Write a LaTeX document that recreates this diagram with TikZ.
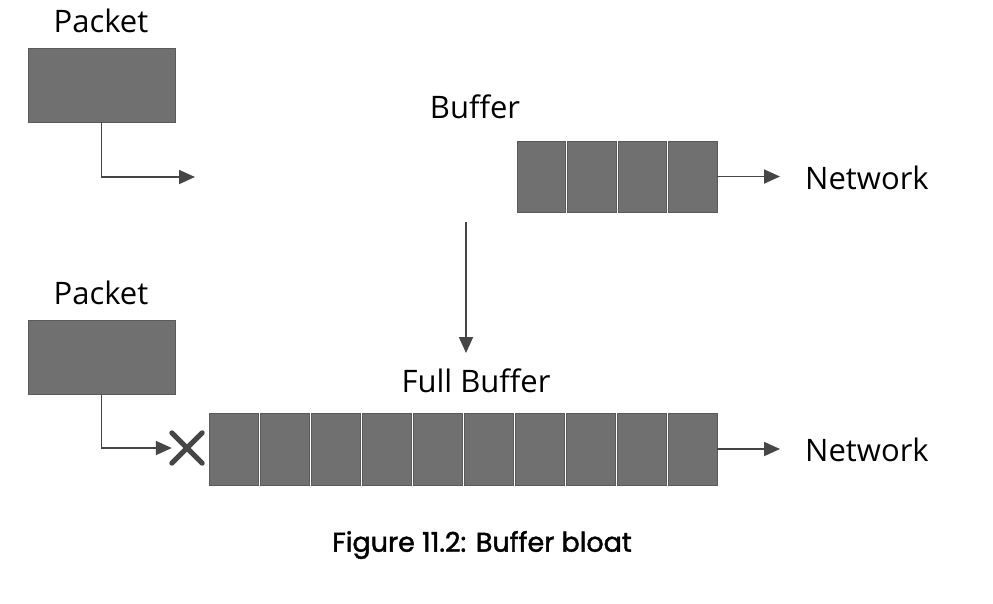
\documentclass[tikz,border=0pt]{standalone}
\usepackage{fontspec}
\setmainfont{Open Sans}
\newfontfamily\captionfont{Poppins}[FakeBold=1.6]
\usetikzlibrary{positioning,arrows.meta}
\definecolor{cellgray}{RGB}{112,112,112}
\definecolor{linegray}{RGB}{70,70,70}

\begin{document}
\begin{tikzpicture}[x=1pt, y=-1pt,
      cell/.style={rectangle, draw=cellgray!80!black, fill=cellgray, line width=0.8pt,
                   inner sep=0pt},
      pkt/.style={cell, minimum width=147pt, minimum height=74pt},
      lbl/.style={font=\fontsize{31}{37}\selectfont, inner sep=0pt},
      flow/.style={draw=linegray, line width=1.8pt,
                   -{Triangle[length=16pt, width=14pt]}}]
    \useasboundingbox (0,0) rectangle (993,603);
    % before: buffer with room
    \node[pkt] (pkt1) at (101.5, 85) {};
    \node[lbl] (pktlbl1) at (101, 21) {Packet};
    \foreach \i in {1,...,4} {
      \node[cell, minimum width=48.5pt, minimum height=71pt] (b\i)
        at (516+25.25+50.5*\i-50.5, 176.5) {};
    }
    \node[lbl] (buflbl) at (475, 107) {Buffer};
    \node[lbl, anchor=west] (net1) at (805, 178) {Network};
    \coordinate (in1) at (195, 177);
    \draw[flow] (pkt1.south) |- (in1);
    \draw[flow, shorten >=25pt] (b4.east) -- (b4.east -| net1.west);
    % buffer fills up
    \coordinate (fill1) at (466, 222);
    \coordinate (fill2) at (466, 353);
    \draw[flow] (fill1) -- (fill2);
    % after: full buffer, packet dropped
    \node[pkt] (pkt2) at (101.5, 357.5) {};
    \node[lbl] (pktlbl2) at (101, 293) {Packet};
    \foreach \i in {1,...,10} {
      \node[cell, minimum width=49pt, minimum height=72pt] (f\i)
        at (208+25.5+51*\i-51, 449) {};
    }
    \node[lbl] (fulllbl) at (476, 381) {Full Buffer};
    \node[lbl, anchor=west] (net2) at (805, 450) {Network};
    \node[inner sep=0pt, minimum size=30pt] (drop) at (187, 448) {};
    \draw[linegray, line width=5pt, line cap=round]
      (drop.north west) -- (drop.south east)
      (drop.south west) -- (drop.north east);
    \draw[flow] (pkt2.south) |- (drop.west);
    \draw[flow, shorten >=25pt] (f10.east) -- (f10.east -| net2.west);
    \node[font=\fontsize{27}{32}\captionfont, inner sep=0pt] (caption)
      at (482, 545) {Figure 11.2: Buffer bloat};
  \end{tikzpicture}
\end{document}
